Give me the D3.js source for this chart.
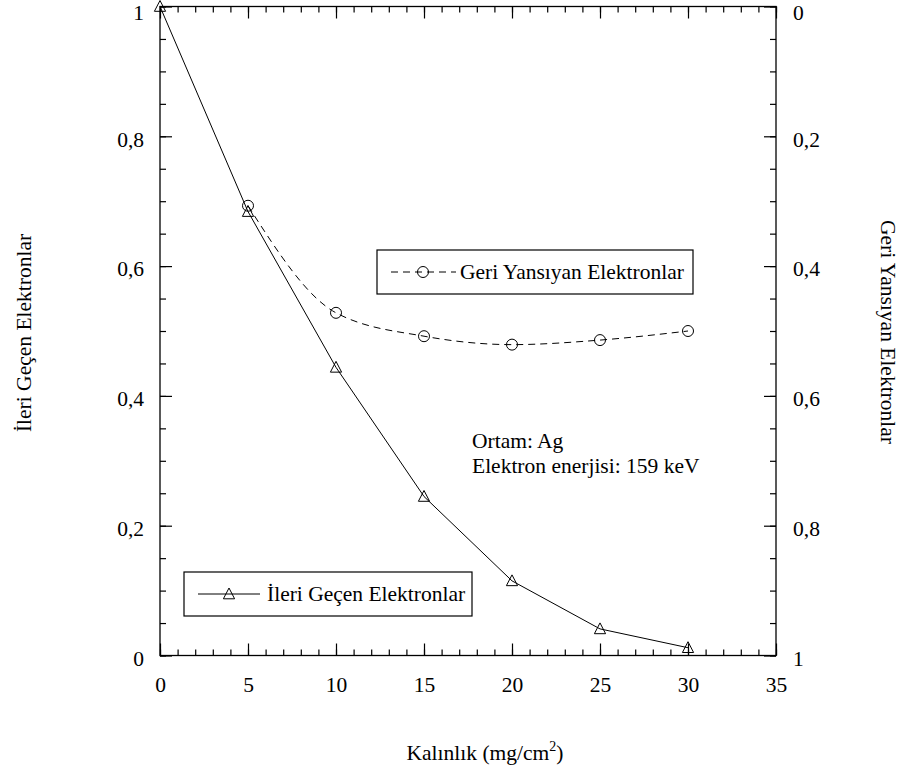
<!DOCTYPE html>
<html>
<head>
<meta charset="utf-8">
<script src="https://cdn.jsdelivr.net/npm/d3@7"></script>
<style>
  html, body { margin: 0; padding: 0; background: #fff; }
  svg { display: block; }
  svg text { fill: #000; font-family: "Times New Roman", "Liberation Serif", Times, "DejaVu Serif", serif !important; }
</style>
</head>
<body>
<svg id="chart" width="910" height="776"></svg>
<script>
// Thickness (mg/cm²)
const thickness = [0, 5, 10, 15, 20, 25, 30];
// Fraction of transmitted electrons (left axis)
const transmitted = [1, 0.684, 0.444, 0.245, 0.115, 0.041, 0.012];
// Backscattered electrons (right axis, reversed)
const backThickness = [5, 10, 15, 20, 25, 30];
const backscattered = [0.307, 0.472, 0.508, 0.521, 0.514, 0.500];

const xTicks = [0, 5, 10, 15, 20, 25, 30, 35];
const yTicks = [0, 0.2, 0.4, 0.6, 0.8, 1];
const fmt = v => String(v).replace(".", ",");

(function () {
const svg = d3.select("#chart");
const pLeft = 160, pRight = 776, pTop = 6.5, pBottom = 655.5;

const x = d3.scaleLinear().domain([0, 35]).range([pLeft, pRight]);
const yL = d3.scaleLinear().domain([0, 1]).range([pBottom, pTop]);
const yR = d3.scaleLinear().domain([0, 1]).range([pTop, pBottom]);

const FS = 21.5;
const stroke = "#000";

// frame
svg.append("rect")
  .attr("x", pLeft).attr("y", pTop)
  .attr("width", pRight - pLeft).attr("height", pBottom - pTop)
  .attr("fill", "none").attr("stroke", stroke).attr("stroke-width", 1.3);

function styleAxis(g) {
  g.select(".domain").remove();
  g.selectAll("line").attr("stroke", stroke).attr("stroke-width", 1.2);
  g.selectAll("text").attr("font-size", FS);
}

const xMinor = d3.range(0, 36, 1);
const yMinor = d3.range(0, 1.0001, 0.05);

// bottom axis (ticks inward)
svg.append("g").attr("transform", `translate(0,${pBottom})`)
  .call(d3.axisBottom(x).tickValues(xMinor).tickSize(-6).tickFormat(""))
  .call(styleAxis);
svg.append("g").attr("transform", `translate(0,${pBottom})`)
  .call(d3.axisBottom(x).tickValues(xTicks).tickSize(-12).tickPadding(21).tickFormat(d => d))
  .call(styleAxis);

// top axis (ticks only)
svg.append("g").attr("transform", `translate(0,${pTop})`)
  .call(d3.axisTop(x).tickValues(xMinor).tickSize(-6).tickFormat(""))
  .call(styleAxis);
svg.append("g").attr("transform", `translate(0,${pTop})`)
  .call(d3.axisTop(x).tickValues(xTicks).tickSize(-12).tickFormat(""))
  .call(styleAxis);

// left axis; the label at the top edge sits a little lower so it stays on the page
svg.append("g").attr("transform", `translate(${pLeft},0)`)
  .call(d3.axisLeft(yL).tickValues(yMinor).tickSize(-6).tickFormat(""))
  .call(styleAxis);
svg.append("g").attr("transform", `translate(${pLeft},0)`)
  .call(d3.axisLeft(yL).tickValues(yTicks).tickSize(-12).tickPadding(16).tickFormat(fmt))
  .call(styleAxis)
  .call(g => g.selectAll("text").attr("dy", d => d === 1 ? "0.6em" : "0.46em"));

// right axis (reversed)
svg.append("g").attr("transform", `translate(${pRight},0)`)
  .call(d3.axisRight(yR).tickValues(yMinor).tickSize(-6).tickFormat(""))
  .call(styleAxis);
svg.append("g").attr("transform", `translate(${pRight},0)`)
  .call(d3.axisRight(yR).tickValues(yTicks).tickSize(-12).tickPadding(17).tickFormat(fmt))
  .call(styleAxis)
  .call(g => g.selectAll("text").attr("dy", d => d === 0 ? "0.6em" : "0.46em"));

// axis titles
const xt = svg.append("text")
  .attr("x", (pLeft + pRight) / 2 + 17).attr("y", 760)
  .attr("text-anchor", "middle").attr("font-size", FS);
xt.append("tspan").text("Kalınlık (mg/cm");
xt.append("tspan").attr("font-size", 14).attr("dy", -9).text("2");
xt.append("tspan").attr("dy", 9).text(")");

svg.append("text")
  .attr("transform", `translate(31,333) rotate(-90)`)
  .attr("text-anchor", "middle").attr("font-size", FS)
  .text("İleri Geçen Elektronlar");

svg.append("text")
  .attr("transform", `translate(881,332) rotate(90)`)
  .attr("text-anchor", "middle").attr("font-size", FS)
  .text("Geri Yansıyan Elektronlar");

// markers
const triPath = "M0,-6L5.6,4.8L-5.6,4.8Z";

// transmitted series
const trData = thickness.map((t, i) => ({ t, v: transmitted[i] }));
svg.append("path").datum(trData)
  .attr("fill", "none").attr("stroke", stroke).attr("stroke-width", 1)
  .attr("d", d3.line().x(d => x(d.t)).y(d => yL(d.v)));
svg.selectAll(".tri").data(trData).join("path")
  .attr("class", "tri")
  .attr("transform", d => `translate(${x(d.t)},${yL(d.v)})`)
  .attr("d", triPath)
  .attr("fill", "none").attr("stroke", stroke).attr("stroke-width", 1);

// backscattered series
const bsData = backThickness.map((t, i) => ({ t, v: backscattered[i] }));
svg.append("path").datum(bsData)
  .attr("fill", "none").attr("stroke", stroke).attr("stroke-width", 1)
  .attr("stroke-dasharray", "7,5")
  .attr("d", d3.line().curve(d3.curveMonotoneX).x(d => x(d.t)).y(d => yR(d.v)));
svg.selectAll(".circ").data(bsData).join("circle")
  .attr("class", "circ")
  .attr("cx", d => x(d.t)).attr("cy", d => yR(d.v)).attr("r", 5.5)
  .attr("fill", "none").attr("stroke", stroke).attr("stroke-width", 1);

// legend: backscattered
const lg1 = svg.append("g");
lg1.append("rect").attr("x", 377).attr("y", 250).attr("width", 316).attr("height", 44)
  .attr("fill", "#fff").attr("stroke", stroke).attr("stroke-width", 1.2);
lg1.append("line").attr("x1", 391).attr("x2", 456).attr("y1", 272).attr("y2", 272)
  .attr("stroke", stroke).attr("stroke-width", 1).attr("stroke-dasharray", "7,5");
lg1.append("circle").attr("cx", 423).attr("cy", 272).attr("r", 5.5)
  .attr("fill", "none").attr("stroke", stroke).attr("stroke-width", 1);
lg1.append("text").attr("x", 460).attr("y", 279).attr("font-size", FS)
  .text("Geri Yansıyan Elektronlar");

// legend: transmitted
const lg2 = svg.append("g");
lg2.append("rect").attr("x", 184).attr("y", 572).attr("width", 288).attr("height", 44)
  .attr("fill", "#fff").attr("stroke", stroke).attr("stroke-width", 1.2);
lg2.append("line").attr("x1", 198).attr("x2", 260).attr("y1", 594).attr("y2", 594)
  .attr("stroke", stroke).attr("stroke-width", 1);
lg2.append("path").attr("transform", "translate(229,594)").attr("d", triPath)
  .attr("fill", "none").attr("stroke", stroke).attr("stroke-width", 1);
lg2.append("text").attr("x", 267).attr("y", 601).attr("font-size", FS)
  .text("İleri Geçen Elektronlar");

// annotation
svg.append("text").attr("x", 472).attr("y", 448).attr("font-size", FS).text("Ortam: Ag");
svg.append("text").attr("x", 472).attr("y", 473).attr("font-size", FS).text("Elektron enerjisi: 159 keV");
})();
</script>
</body>
</html>
